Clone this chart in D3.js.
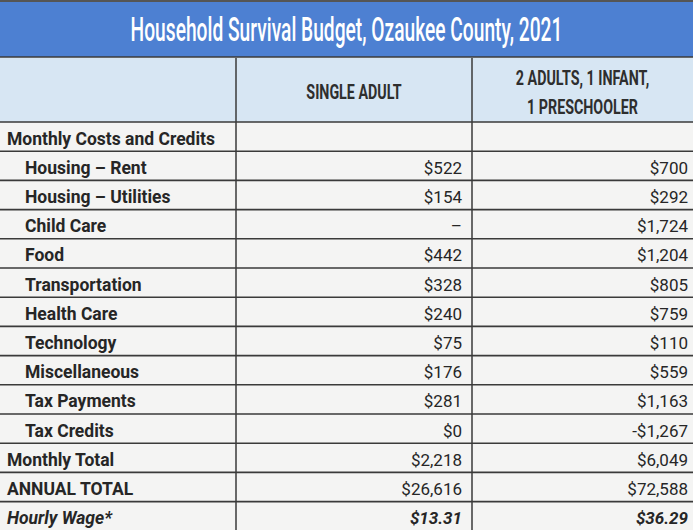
<!DOCTYPE html>
<html>
<head>
<meta charset="utf-8">
<script src="https://cdn.jsdelivr.net/npm/d3@7"></script>
<style>
  html, body { margin: 0; padding: 0; background: #f2f2f0; }
  svg { display: block; }
</style>
</head>
<body>
<svg id="chart"></svg>
<script>
// table content
const title = "Household Survival Budget, Ozaukee County, 2021";
const columnHeads = [["SINGLE ADULT"], ["2 ADULTS, 1 INFANT,", "1 PRESCHOOLER"]];
const rowLabels = [
  "Monthly Costs and Credits", "Housing – Rent", "Housing – Utilities", "Child Care",
  "Food", "Transportation", "Health Care", "Technology", "Miscellaneous",
  "Tax Payments", "Tax Credits", "Monthly Total", "ANNUAL TOTAL", "Hourly Wage*"
];
const singleAdult = ["", "$522", "$154", "–", "$442", "$328", "$240", "$75", "$176", "$281", "$0", "$2,218", "$26,616", "$13.31"];
const family = ["", "$700", "$292", "$1,724", "$1,204", "$805", "$759", "$110", "$559", "$1,163", "-$1,267", "$6,049", "$72,588", "$36.29"];
// rows that sit flush left (the rest are indented line items)
const topLevel = ["Monthly Costs and Credits", "Monthly Total", "ANNUAL TOTAL", "Hourly Wage*"];

const W = 693, H = 530;
const titleH = 57, headH = 65;
const colX = [0, 236, 472, W];
const lineCol = "#3a3a3a";

const svg = d3.select("#chart").attr("width", W).attr("height", H);

// squeeze a centred text horizontally, like the condensed face in the original
function condensed(sel, cx, k) {
  sel.attr("x", 0).attr("text-anchor", "middle")
    .attr("transform", `translate(${cx},0) scale(${k},1)`);
}

// title bar
svg.append("rect").attr("x", 0).attr("y", 0).attr("width", W).attr("height", titleH).attr("fill", "#4d80d2");
svg.append("rect").attr("x", 0).attr("y", 0).attr("width", W).attr("height", 2).attr("fill", "#555");
const titleText = svg.append("text")
  .attr("y", titleH / 2 + 2)
  .attr("dominant-baseline", "central")
  .attr("fill", "#fff").style("font-family", "Roboto, sans-serif")
  .style("font-size", "33px").style("font-weight", 500)
  .text(title);
condensed(titleText, W / 2, 432 / titleText.node().getComputedTextLength());

// header row
const headTop = titleH + 1;
svg.append("rect").attr("x", 0).attr("y", headTop).attr("width", W).attr("height", headH).attr("fill", "#d7e6f3");

columnHeads.forEach((lines, i) => {
  const cx = (colX[i + 1] + colX[i + 2]) / 2;
  const n = lines.length;
  lines.forEach((t, j) => {
    const el = svg.append("text")
      .attr("y", headTop + headH / 2 + (j - (n - 1) / 2) * 29 + 1)
      .attr("dominant-baseline", "central")
      .attr("fill", "#2e2e2e")
      .style("font-family", "Roboto, sans-serif").style("font-weight", 700).style("font-size", "21px")
      .text(t);
    condensed(el, cx, 0.68);
  });
});

// body rows
const bodyTop = headTop + headH - 1;
const y = d3.scaleBand().domain(rowLabels).range([bodyTop, bodyTop + 29.2 * rowLabels.length]);

svg.append("rect").attr("x", 0).attr("y", bodyTop).attr("width", W).attr("height", H - bodyTop).attr("fill", "#f4f4f3");

const rows = svg.selectAll(".row").data(rowLabels).join("g")
  .attr("transform", d => `translate(0,${y(d)})`);

const textY = y.bandwidth() / 2 + 2;
const isLast = d => d === "Hourly Wage*";

rows.append("text")
  .attr("x", d => topLevel.includes(d) ? 7 : 25)
  .attr("y", textY)
  .attr("dominant-baseline", "central")
  .attr("fill", "#262626")
  .style("font-family", "Roboto, sans-serif").style("font-size", "17.5px")
  .style("font-style", d => isLast(d) ? "italic" : "normal")
  .style("font-weight", 700)
  .text(d => d);

[singleAdult, family].forEach((vals, c) => {
  rows.append("text")
    .attr("x", colX[c + 2] - 10 + (c === 1 ? 5 : 0))
    .attr("y", textY)
    .attr("text-anchor", "end").attr("dominant-baseline", "central")
    .attr("fill", "#262626")
    .style("font-family", "Roboto, sans-serif").style("font-size", "17px")
    .style("font-style", d => isLast(d) ? "italic" : "normal")
    .style("font-weight", d => isLast(d) ? 700 : 400)
    .text((d, i) => vals[i]);
});

// grid lines
const hLines = [titleH, headTop + headH - 1].concat(rowLabels.slice(1).map(d => y(d)));
svg.selectAll(".hl").data(hLines).join("line")
  .attr("x1", 0).attr("x2", W).attr("y1", d => d).attr("y2", d => d)
  .attr("stroke", lineCol).attr("stroke-width", 1.6);

svg.selectAll(".vl").data(colX.slice(1, 3)).join("line")
  .attr("x1", d => d).attr("x2", d => d).attr("y1", headTop).attr("y2", H)
  .attr("stroke", lineCol).attr("stroke-width", 1.5);
</script>
</body>
</html>
